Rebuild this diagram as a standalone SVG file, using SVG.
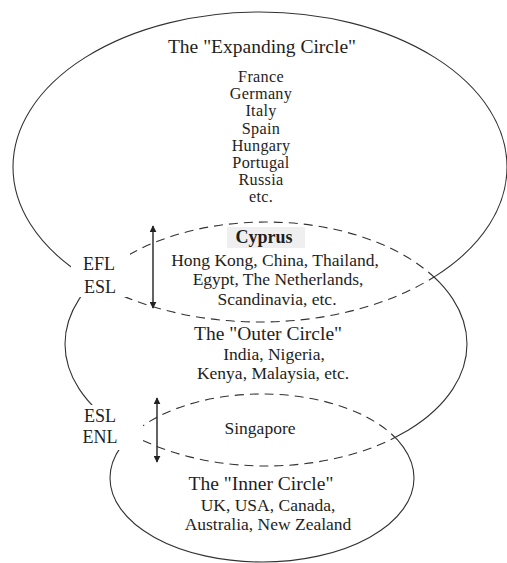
<svg xmlns="http://www.w3.org/2000/svg" width="507" height="563" viewBox="0 0 507 563">
  <style>
    .ring { fill: none; stroke: #333; stroke-width: 1.1; }
    .dash { stroke-dasharray: 9 6; }
    .t { font-family: "Liberation Serif", "Times New Roman", serif; fill: #1e1e1e; text-anchor: middle; }
    .head { font-size: 19.5px; }
    .body { font-size: 17.5px; }
    .list { font-size: 16.2px; letter-spacing: 0.3px; }
    .lab { font-size: 18px; }
    .arrow { stroke: #222; stroke-width: 1.4; marker-start: url(#tip); marker-end: url(#tip); }
  </style>
  <defs>
    <marker id="tip" viewBox="0 0 10 10" refX="9" refY="5" markerWidth="5" markerHeight="5" orient="auto-start-reverse" markerUnits="strokeWidth">
      <path d="M0,0 L10,5 L0,10 Z" fill="#222"/>
    </marker>
    <!-- inside / outside regions of each ring, used to switch between solid and dashed strokes -->
    <clipPath id="inExp"><ellipse cx="260" cy="167" rx="247" ry="155"/></clipPath>
    <clipPath id="outExp"><path clip-rule="evenodd" d="M-10,-10 H520 V580 H-10 Z M13,167 A247,155 0 1,0 507,167 A247,155 0 1,0 13,167 Z"/></clipPath>
    <clipPath id="inOuter"><ellipse cx="266" cy="344" rx="201" ry="122"/></clipPath>
    <clipPath id="outOuter"><path clip-rule="evenodd" d="M-10,-10 H520 V580 H-10 Z M65,344 A201,122 0 1,0 467,344 A201,122 0 1,0 65,344 Z"/></clipPath>
    <clipPath id="inInner"><ellipse cx="262" cy="478" rx="152" ry="84"/></clipPath>
    <clipPath id="outInner"><path clip-rule="evenodd" d="M-10,-10 H520 V580 H-10 Z M110,478 A152,84 0 1,0 414,478 A152,84 0 1,0 110,478 Z"/></clipPath>
    <!-- keep the ring outlines clear of the side labels -->
    <mask id="labelGap" maskUnits="userSpaceOnUse" x="0" y="0" width="507" height="563">
      <rect x="0" y="0" width="507" height="563" fill="#fff"/>
      <rect x="71" y="249" width="59" height="48" fill="#000"/>
      <rect x="84" y="405" width="59" height="45" fill="#000"/>
    </mask>
  </defs>

  <rect x="0" y="0" width="507" height="563" fill="#fff"/>

  <g id="rings" mask="url(#labelGap)">
    <g id="expanding-ring">
      <ellipse class="ring" cx="260" cy="167" rx="247" ry="155" clip-path="url(#outOuter)"/>
      <ellipse class="ring dash" cx="260" cy="167" rx="247" ry="155" clip-path="url(#inOuter)"/>
    </g>
    <g id="outer-ring">
      <g clip-path="url(#outExp)">
        <ellipse class="ring" cx="266" cy="344" rx="201" ry="122" clip-path="url(#outInner)"/>
      </g>
      <ellipse class="ring dash" cx="266" cy="344" rx="201" ry="122" clip-path="url(#inExp)"/>
      <ellipse class="ring dash" cx="266" cy="344" rx="201" ry="122" clip-path="url(#inInner)"/>
    </g>
    <g id="inner-ring">
      <ellipse class="ring" cx="262" cy="478" rx="152" ry="84" clip-path="url(#outOuter)"/>
      <ellipse class="ring dash" cx="262" cy="478" rx="152" ry="84" clip-path="url(#inOuter)"/>
    </g>
  </g>

  <g id="expanding-circle">
    <text class="t head" x="262" y="53">The "Expanding Circle"</text>
    <text class="t list" x="261" y="82">France</text>
    <text class="t list" x="261" y="99.2">Germany</text>
    <text class="t list" x="261" y="116.4">Italy</text>
    <text class="t list" x="261" y="133.6">Spain</text>
    <text class="t list" x="261" y="150.8">Hungary</text>
    <text class="t list" x="261" y="168">Portugal</text>
    <text class="t list" x="261" y="185.2">Russia</text>
    <text class="t list" x="261" y="202.4">etc.</text>
  </g>

  <g id="efl-esl-overlap">
    <rect x="227" y="227" width="78" height="21" fill="#efefef"/>
    <text class="t" x="264" y="243" font-size="18" font-weight="bold">Cyprus</text>
    <text class="t body" x="275" y="266">Hong Kong, China, Thailand,</text>
    <text class="t body" x="278" y="285">Egypt, The Netherlands,</text>
    <text class="t body" x="277" y="305">Scandinavia, etc.</text>
  </g>

  <g id="outer-circle">
    <text class="t head" x="268" y="340">The "Outer Circle"</text>
    <text class="t body" x="274" y="359.5">India, Nigeria,</text>
    <text class="t body" x="273" y="378.5">Kenya, Malaysia, etc.</text>
  </g>

  <g id="esl-enl-overlap">
    <text class="t body" x="260" y="434">Singapore</text>
  </g>

  <g id="inner-circle">
    <text class="t head" x="261" y="490">The "Inner Circle"</text>
    <text class="t body" x="268" y="511">UK, USA, Canada,</text>
    <text class="t body" x="268" y="530">Australia, New Zealand</text>
  </g>

  <g id="side-labels">
    <text class="t lab" x="99" y="270">EFL</text>
    <text class="t lab" x="100" y="293">ESL</text>
    <text class="t lab" x="100" y="422">ESL</text>
    <text class="t lab" x="100" y="443">ENL</text>
  </g>

  <g id="connectors">
    <line class="arrow" x1="153" y1="226" x2="153" y2="308"/>
    <line class="arrow" x1="157" y1="398" x2="157" y2="462"/>
  </g>
</svg>
